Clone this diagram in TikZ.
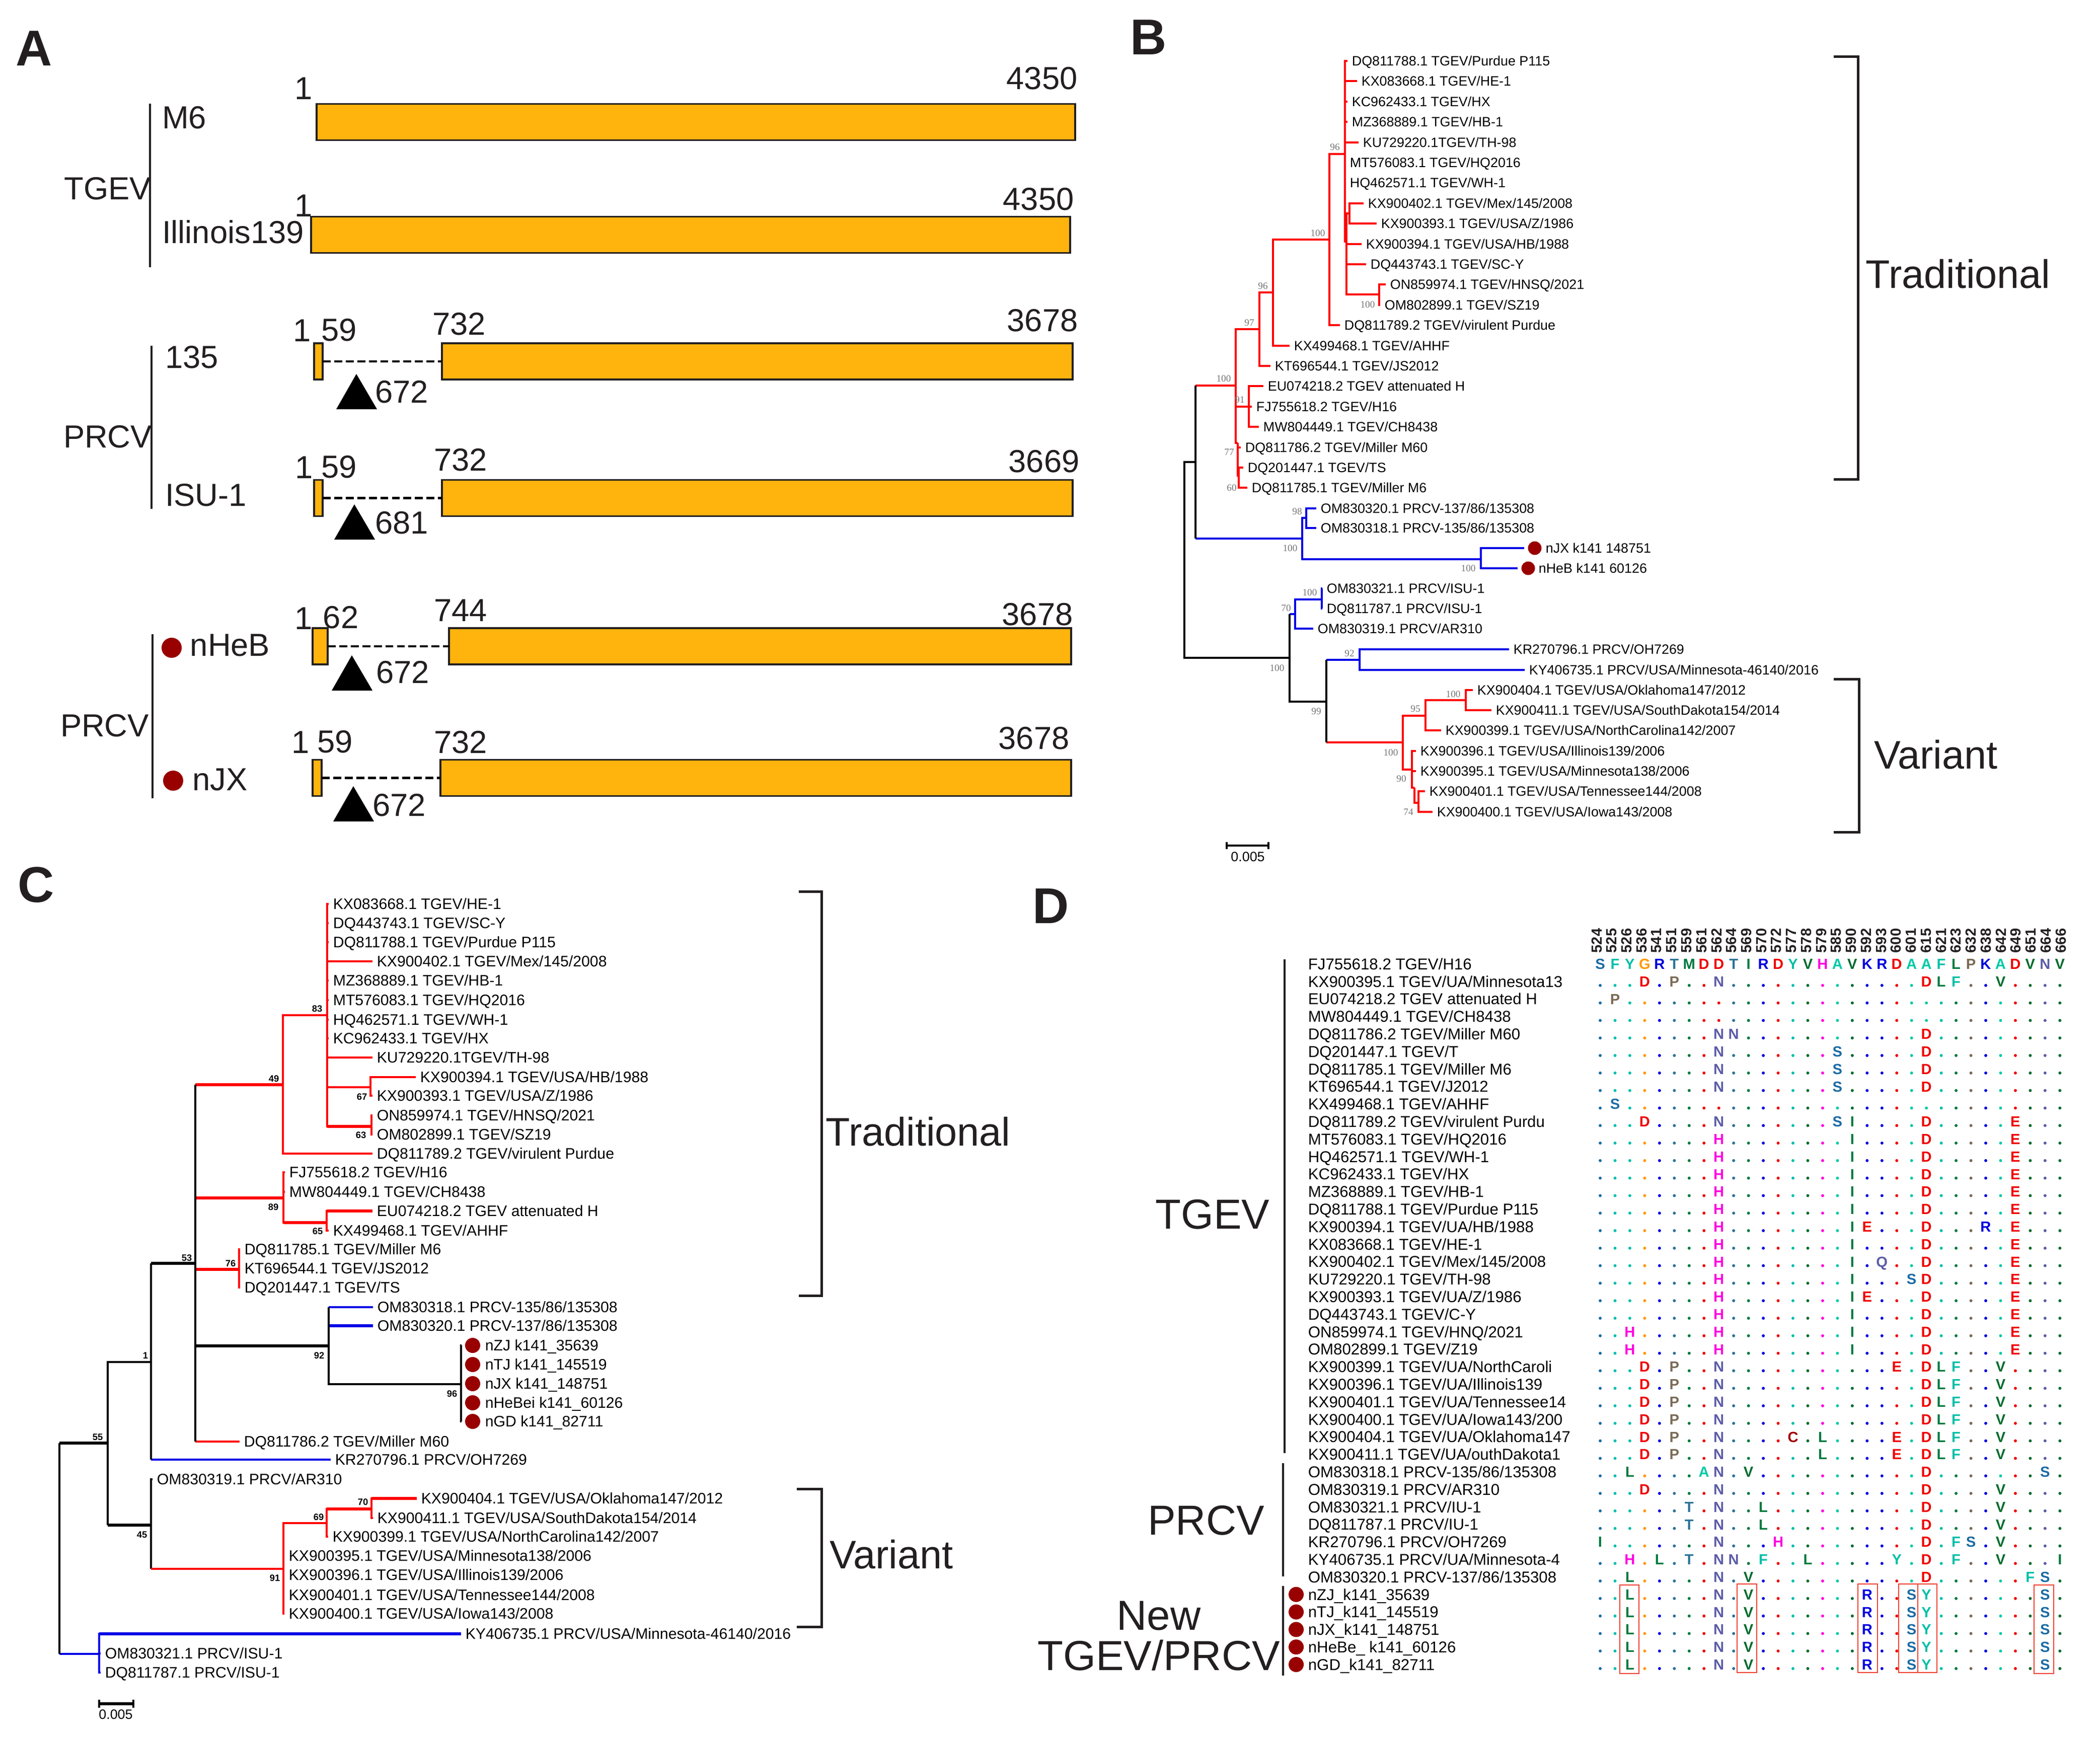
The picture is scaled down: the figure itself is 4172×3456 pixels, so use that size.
\documentclass[tikz,border=0pt]{standalone}
\usepackage{fontspec}
\setmainfont{Liberation Sans}
\newfontfamily\bsfont{Liberation Serif}
\definecolor{ink}{HTML}{231F20}
\definecolor{barfill}{HTML}{FFB30D}
\definecolor{spot}{HTML}{990000}
\definecolor{brred}{HTML}{FF0000}
\definecolor{brblue}{HTML}{0000E6}
\definecolor{boxred}{HTML}{F04030}
\definecolor{alnS}{HTML}{1B6BA5}
\definecolor{alnF}{HTML}{00BFA8}
\definecolor{alnY}{HTML}{00BFA8}
\definecolor{alnG}{HTML}{FF9900}
\definecolor{alnR}{HTML}{0000E0}
\definecolor{alnT}{HTML}{2A7396}
\definecolor{alnM}{HTML}{007A3D}
\definecolor{alnD}{HTML}{F00000}
\definecolor{alnE}{HTML}{F00000}
\definecolor{alnI}{HTML}{007A3D}
\definecolor{alnH}{HTML}{FF00E0}
\definecolor{alnA}{HTML}{00C9A7}
\definecolor{alnV}{HTML}{006B2D}
\definecolor{alnL}{HTML}{007A3D}
\definecolor{alnK}{HTML}{0000E0}
\definecolor{alnP}{HTML}{7A6A55}
\definecolor{alnN}{HTML}{5C5CA8}
\definecolor{alnQ}{HTML}{5C5CA8}
\definecolor{alnC}{HTML}{A00000}
\tikzset{
pan/.style={font=\fontsize{24}{26}\selectfont\bfseries,text=ink,inner sep=0pt},
numA/.style={font=\fontsize{15.2}{18}\selectfont,text=ink,inner sep=0pt},
bigl/.style={font=\fontsize{19}{22}\selectfont,text=ink,inner sep=0pt},
bigd/.style={font=\fontsize{20}{22}\selectfont,text=ink,inner sep=0pt},
bar/.style={draw=ink,fill=barfill,line width=.8pt,anchor=west,inner sep=0pt,outer sep=0pt,minimum height=17.28pt},
barw/.style={minimum width=#1*.24pt},
gap/.style={draw=black,line width=1.05pt,dash pattern=on 3.8pt off 1.7pt},
rule/.style={draw=ink,line width=1.1pt},
brk/.style={draw=ink,line width=1.2pt},
redspot/.style={circle,fill=spot,inner sep=0pt,outer sep=1.9pt,minimum size=#1*.24pt},
lf/.style={anchor=west,inner ysep=0pt,inner xsep=1.92pt,xshift=-1.92pt,text=black,text depth=0pt},
lfB/.style={lf,text height=4.7pt,font=\fontsize{6.45}{8}\selectfont},
lfC/.style={lf,text height=5.2pt,font=\fontsize{7.25}{9}\selectfont},
lfD/.style={lf,text height=5.4pt,font=\fontsize{7.5}{9}\selectfont},
drow/.style={at={(2598,{1915+34.8*#1})}},
rbr/.style={draw=brred,line width=.85pt},
bbr/.style={draw=brblue,line width=.85pt},
kbr/.style={draw=black,line width=.85pt},
fat/.style={line width=1.35pt},
bsB/.style={font=\bsfont\fontsize{4.6}{5}\selectfont,text=black!55,inner sep=0pt},
bsC/.style={font=\fontsize{4.4}{5}\selectfont\bfseries,text=black,inner sep=0pt},
alnletter/.style={font=\fontsize{7}{8}\selectfont\bfseries,inner sep=0pt,text height=5pt,text depth=0pt},
alnnum/.style={font=\fontsize{7}{8}\selectfont\bfseries,text=ink,inner sep=0pt,rotate=90},
alnbox/.style={draw=boxred,line width=.6pt}
}
\newcount\alncol
\def\alncons{{"S","F","Y","G","R","T","M","D","D","T","I","R","D","Y","V","H","A","V","K","R","D","A","A","F","L","P","K","A","D","V","N","V"}}
\newcommand\alncell[1]{\advance\alncol by 1
\ifx#1.\pgfmathparse{\alncons[\the\alncol-1]}\edef\alnc{\pgfmathresult}%
\fill[fill=aln\alnc] ({3179+29.46*(\the\alncol-1)},{1923+34.8*\alnr}) circle (3);
\else\node[alnletter,text=aln#1] (a\alnr-\the\alncol) at ({3179+29.46*(\the\alncol-1)},{1915+34.8*\alnr}) {#1};\fi}
\def\alnnext#1{\ifx#1\relax\else\alncell{#1}\expandafter\alnnext\fi}
\newcommand\alnrow[2]{\def\alnr{#1}\alncol=0 \alnnext#2\relax}

\begin{document}
\begin{tikzpicture}[x=.24pt,y=-.24pt]
\useasboundingbox (0,0) rectangle (4172,3456);
\node[pan] (pA) at (68,96) {A};
\node[pan] (pB) at (2282,74) {B};
\node[pan] (pC) at (72,1758) {C};
\node[pan] (pD) at (2088,1800) {D};

\draw[rule] (298,206) -- (298,531);
\draw[rule] (301,687) -- (301,1011);
\draw[rule] (303,1260) -- (303,1586);
\node[numA] (tgevA) at (214,375) {TGEV};
\node[numA] (prcvA) at (214,868) {PRCV};
\node[numA] (prcvB) at (208,1442) {PRCV};
\node[numA] (m6) at (366,234) {M6};
\node[numA] (il) at (463,461) {Illinois139};
\node[numA] (s135) at (381,710) {135};
\node[numA] (isu) at (409,984) {ISU-1};
\node[redspot=40] (spHeB) at (341,1287) {};
\node[redspot=40] (spJX) at (344,1551) {};
\node[numA] (nheb) at (457,1282) {nHeB};
\node[numA] (njx) at (437,1549) {nJX};

\node[bar,barw=1507] (barM) at (629,242.5) {};
\node[bar,barw=1508] (barI) at (618,466.5) {};
\node[bar,barw=17] (barSa) at (624,718) {};
\node[bar,barw=1253] (barSb) at (878,718) {};
\node[bar,barw=17] (barUa) at (624,989.5) {};
\node[bar,barw=1253] (barUb) at (878,989.5) {};
\node[bar,barw=30] (barHa) at (621,1284) {};
\node[bar,barw=1236] (barHb) at (892,1284) {};
\node[bar,barw=18] (barJa) at (621,1545.5) {};
\node[bar,barw=1253] (barJb) at (875,1545.5) {};
\draw[gap] (barSa) -- (barSb);
\draw[gap] (barUa) -- (barUb);
\draw[gap] (barHa) -- (barHb);
\draw[gap] (barJa) -- (barJb);
\foreach \x/\y in {708/743,704/1002,699/1302,702/1562}
\fill[black] (\x,\y) -- ++(-40,70) -- ++(81,0) -- cycle;
\foreach \x/\y/\t [count=\n] in {603/176/1,2070/156/4350,603/409/1,2063/396/4350,
600/657/1,674/656/59,912/644/732,2071/637/3678,798/779/672,
604/929/1,674/928/59,915/914/732,2074/917/3669,798/1039/681,
603/1229/1,677/1227/62,915/1213/744,2061/1221/3678,800/1336/672,
597/1475/1,666/1474/59,915/1475/732,2054/1467/3678,793/1600/672}
\node[numA] (pos\n) at (\x,\y) {\t};

\node[lfB] (bDQ788) at (2685,121) {DQ811788.1 TGEV/Purdue P115};
\node[lfB] (bKX083) at (2704,161) {KX083668.1 TGEV/HE-1};
\node[lfB] (bKC) at (2685,202) {KC962433.1 TGEV/HX};
\node[lfB] (bMZ) at (2685,242) {MZ368889.1 TGEV/HB-1};
\node[lfB] (bKU) at (2707,283) {KU729220.1TGEV/TH-98};
\node[lfB] (bMT) at (2681,323) {MT576083.1 TGEV/HQ2016};
\node[lfB] (bHQ) at (2681,363) {HQ462571.1 TGEV/WH-1};
\node[lfB] (bKX402) at (2717,404) {KX900402.1 TGEV/Mex/145/2008};
\node[lfB] (bKX393) at (2743,444) {KX900393.1 TGEV/USA/Z/1986};
\node[lfB] (bKX394) at (2713,485) {KX900394.1 TGEV/USA/HB/1988};
\node[lfB] (bDQ443) at (2722,525) {DQ443743.1 TGEV/SC-Y};
\node[lfB] (bON) at (2761,565) {ON859974.1 TGEV/HNSQ/2021};
\node[lfB] (bOM) at (2750,606) {OM802899.1 TGEV/SZ19};
\node[lfB] (bDQ789) at (2670,646) {DQ811789.2 TGEV/virulent Purdue};
\node[lfB] (bKX499) at (2570,687) {KX499468.1 TGEV/AHHF};
\node[lfB] (bKT) at (2532,727) {KT696544.1 TGEV/JS2012};
\node[lfB] (bEU) at (2518,767) {EU074218.2 TGEV attenuated H};
\node[lfB] (bFJ) at (2495,808) {FJ755618.2 TGEV/H16};
\node[lfB] (bMW) at (2509,848) {MW804449.1 TGEV/CH8438};
\node[lfB] (bDQ786) at (2473,889) {DQ811786.2 TGEV/Miller M60};
\node[lfB] (bDQ201) at (2478,929) {DQ201447.1 TGEV/TS};
\node[lfB] (bDQ785) at (2486,969) {DQ811785.1 TGEV/Miller M6};
\node[lfB] (bOM320) at (2623,1010) {OM830320.1 PRCV-137/86/135308};
\node[lfB] (bOM318) at (2623,1049) {OM830318.1 PRCV-135/86/135308};
\node[redspot=27] (bsJX) at (3049,1089) {};
\node[redspot=27] (bsHeB) at (3036,1129) {};
\node[lfB] (bnJX) at (3070,1089) {nJX k141 148751};
\node[lfB] (bnHeB) at (3056,1129) {nHeB k141 60126};
\node[lfB] (bOM321) at (2635,1169) {OM830321.1 PRCV/ISU-1};
\node[lfB] (bDQ787) at (2635,1209) {DQ811787.1 PRCV/ISU-1};
\node[lfB] (bOM319) at (2617,1249) {OM830319.1 PRCV/AR310};
\node[lfB] (bKR) at (3006,1290) {KR270796.1 PRCV/OH7269};
\node[lfB] (bKY) at (3037,1331) {KY406735.1 PRCV/USA/Minnesota-46140/2016};
\node[lfB] (bKX404) at (2934,1371) {KX900404.1 TGEV/USA/Oklahoma147/2012};
\node[lfB] (bKX411) at (2971,1411) {KX900411.1 TGEV/USA/SouthDakota154/2014};
\node[lfB] (bKX399) at (2871,1451) {KX900399.1 TGEV/USA/NorthCarolina142/2007};
\node[lfB] (bKX396) at (2821,1492) {KX900396.1 TGEV/USA/Illinois139/2006};
\node[lfB] (bKX395) at (2821,1532) {KX900395.1 TGEV/USA/Minnesota138/2006};
\node[lfB] (bKX401) at (2839,1572) {KX900401.1 TGEV/USA/Tennessee144/2008};
\node[lfB] (bKX400) at (2854,1613) {KX900400.1 TGEV/USA/Iowa143/2008};

\coordinate (bR) at (2353,1112);
\coordinate (bT) at (2375,918);
\coordinate (bTr) at (2455,766);
\coordinate (b97) at (2502,654);
\coordinate (b96) at (2529,581);
\coordinate (b100) at (2641,476);
\coordinate (b96b) at (2672,306);
\coordinate (bW) at (2675,480);
\coordinate (bX) at (2681,424);
\coordinate (bY) at (2740,585);
\coordinate (bS) at (2481,808);
\coordinate (bL) at (2459,880);
\coordinate (bM) at (2461,945);
\coordinate (bP) at (2587,1070);
\coordinate (bPa) at (2595,1029);
\coordinate (bPb) at (2942,1111);
\coordinate (bV) at (2562,1307);
\coordinate (bVa) at (2573,1220);
\coordinate (bVb) at (2635,1394);
\coordinate (bVc) at (2626,1191);
\coordinate (bVd) at (2701,1311);
\coordinate (bVe) at (2787,1475);
\coordinate (bVf) at (2832,1422);
\coordinate (bVg) at (2805,1529);
\coordinate (bVh) at (2912,1391);
\coordinate (bVi) at (2810,1565);
\coordinate (bVj) at (2818,1595);
\draw[kbr] (bR) |- (bT);
\draw[kbr] (bR) |- (bV);
\draw[rbr] (bT |- bTr) -- (bTr);
\draw[bbr] (bT |- bP) -- (bP);
\draw[kbr] (bT |- bTr) -- (bT |- bP);
\draw[rbr] (bTr) |- (b97);
\draw[rbr] (bTr) |- (bS);
\draw[rbr] (bTr) |- (bL);
\draw[rbr] (b97) |- (b96);
\draw[rbr] (b97) |- (bKT.west);
\draw[rbr] (b96) |- (b100);
\draw[rbr] (b96) |- (bKX499.west);
\draw[rbr] (b100) |- (b96b);
\draw[rbr] (b100) |- (bDQ789.west);
\foreach \lf in {bDQ788,bKX083,bKC,bMZ,bKU,bMT,bHQ} \draw[rbr] (b96b) |- (\lf.west);
\draw[rbr] (b96b) |- (bW);
\draw[rbr] (bW) |- (bX);
\draw[rbr] (bW) |- (bY);
\draw[rbr] (bW) |- (bKX394.west);
\draw[rbr] (bW) |- (bDQ443.west);
\draw[rbr] (bX) |- (bKX402.west);
\draw[rbr] (bX) |- (bKX393.west);
\draw[rbr] (bY) |- (bON.west);
\draw[rbr] (bY) |- (bOM.west);
\foreach \lf in {bEU,bFJ,bMW} \draw[rbr] (bS) |- (\lf.west);
\draw[rbr] (bL) |- (bDQ786.west);
\draw[rbr] (bL) |- (bM);
\draw[rbr] (bM) |- (bDQ201.west);
\draw[rbr] (bM) |- (bDQ785.west);
\draw[bbr] (bP) |- (bPa);
\draw[bbr] (bP) |- (bPb);
\draw[bbr] (bPa) |- (bOM320.west);
\draw[bbr] (bPa) |- (bOM318.west);
\draw[bbr] (bPb) |- (bsJX.west);
\draw[bbr] (bPb) |- (bsHeB.west);
\draw[bbr] (bV |- bVa) -- (bVa);
\draw[kbr] (bV |- bVa) -- (bV |- bVb) -- (bVb);
\draw[bbr] (bVb |- bVd) -- (bVd);
\draw[rbr] (bVb |- bVe) -- (bVe);
\draw[kbr] (bVb |- bVd) -- (bVb |- bVe);
\draw[bbr] (bVa) |- (bVc);
\draw[bbr] (bVa) |- (bOM319.west);
\draw[bbr] (bVc) |- (bOM321.west);
\draw[bbr] (bVc) |- (bDQ787.west);
\draw[bbr] (bVd) |- (bKR.west);
\draw[bbr] (bVd) |- (bKY.west);
\draw[rbr] (bVe) |- (bVf);
\draw[rbr] (bVe) |- (bVg);
\draw[rbr] (bVf) |- (bVh);
\draw[rbr] (bVf) |- (bKX399.west);
\draw[rbr] (bVh) |- (bKX404.west);
\draw[rbr] (bVh) |- (bKX411.west);
\draw[rbr] (bVg) |- (bKX396.west);
\draw[rbr] (bVg) |- (bKX395.west);
\draw[rbr] (bVg) |- (bVi);
\draw[rbr] (bVi) |- (bVj);
\draw[rbr] (bVj) |- (bKX401.west);
\draw[rbr] (bVj) |- (bKX400.west);
\foreach \x/\y/\t [count=\n] in {2652/292/96,2618/463/100,2509/568/96,2482/641/97,2431/752/100,2463/794/91,2717/605/100,2442/898/77,2447/969/60,
2577/1016/98,2563/1089/100,2917/1129/100,2602/1177/100,2555/1208/70,2537/1327/100,2681/1298/92,2615/1413/99,2887/1379/100,2812/1408/95,2763/1495/100,2784/1547/90,2798/1613/74}
\node[bsB] (bb\n) at (\x,\y) {\t};
\draw[kbr] (2437,1680) -- (2520,1680);
\draw[kbr] (2437,1673) -- (2437,1687);
\draw[kbr] (2520,1673) -- (2520,1687);
\node[lfB,anchor=center,xshift=1.92pt] (bScale) at (2479,1702) {0.005};
\draw[brk] (3643,112) -- (3691,112) -- (3691,952) -- (3643,952);
\draw[brk] (3643,1349) -- (3693,1349) -- (3693,1653) -- (3643,1653);
\node[bigl] (bTrad) at (3890,544) {Traditional};
\node[bigl] (bVar) at (3846,1499) {Variant};

\node[lfC] (cKX083) at (661,1796) {KX083668.1 TGEV/HE-1};
\node[lfC] (cDQ443) at (661,1834) {DQ443743.1 TGEV/SC-Y};
\node[lfC] (cDQ788) at (661,1872) {DQ811788.1 TGEV/Purdue P115};
\node[lfC] (cKX402) at (748,1910) {KX900402.1 TGEV/Mex/145/2008};
\node[lfC] (cMZ) at (661,1948) {MZ368889.1 TGEV/HB-1};
\node[lfC] (cMT) at (661,1987) {MT576083.1 TGEV/HQ2016};
\node[lfC] (cHQ) at (661,2026) {HQ462571.1 TGEV/WH-1};
\node[lfC] (cKC) at (661,2063) {KC962433.1 TGEV/HX};
\node[lfC] (cKU) at (748,2101) {KU729220.1TGEV/TH-98};
\node[lfC] (cKX394) at (834,2140) {KX900394.1 TGEV/USA/HB/1988};
\node[lfC] (cKX393) at (748,2177) {KX900393.1 TGEV/USA/Z/1986};
\node[lfC] (cON) at (748,2216) {ON859974.1 TGEV/HNSQ/2021};
\node[lfC] (cOM) at (748,2254) {OM802899.1 TGEV/SZ19};
\node[lfC] (cDQ789) at (748,2292) {DQ811789.2 TGEV/virulent Purdue};
\node[lfC] (cFJ) at (574,2329) {FJ755618.2 TGEV/H16};
\node[lfC] (cMW) at (574,2368) {MW804449.1 TGEV/CH8438};
\node[lfC] (cEU) at (748,2406) {EU074218.2 TGEV attenuated H};
\node[lfC] (cKX499) at (661,2445) {KX499468.1 TGEV/AHHF};
\node[lfC] (cDQ785) at (485,2482) {DQ811785.1 TGEV/Miller M6};
\node[lfC] (cKT) at (485,2520) {KT696544.1 TGEV/JS2012};
\node[lfC] (cDQ201) at (485,2558) {DQ201447.1 TGEV/TS};
\node[lfC] (cOM318) at (749,2597) {OM830318.1 PRCV-135/86/135308};
\node[lfC] (cOM320) at (749,2634) {OM830320.1 PRCV-137/86/135308};
\node[redspot=30] (csZJ) at (939,2673) {};
\node[redspot=30] (csTJ) at (939,2711) {};
\node[redspot=30] (csJX) at (939,2749) {};
\node[redspot=30] (csHe) at (939,2787) {};
\node[redspot=30] (csGD) at (939,2824) {};
\node[lfC] (cnZJ) at (963,2673) {nZJ k141\_35639};
\node[lfC] (cnTJ) at (963,2711) {nTJ k141\_145519};
\node[lfC] (cnJX) at (963,2749) {nJX k141\_148751};
\node[lfC] (cnHe) at (963,2787) {nHeBei k141\_60126};
\node[lfC] (cnGD) at (963,2824) {nGD k141\_82711};
\node[lfC] (cDQ786) at (484,2864) {DQ811786.2 TGEV/Miller M60};
\node[lfC] (cKR) at (665,2900) {KR270796.1 PRCV/OH7269};
\node[lfC] (cOM319) at (311,2939) {OM830319.1 PRCV/AR310};
\node[lfC] (cKX404) at (836,2977) {KX900404.1 TGEV/USA/Oklahoma147/2012};
\node[lfC] (cKX411) at (749,3016) {KX900411.1 TGEV/USA/SouthDakota154/2014};
\node[lfC] (cKX399) at (660,3053) {KX900399.1 TGEV/USA/NorthCarolina142/2007};
\node[lfC] (cKX395) at (573,3091) {KX900395.1 TGEV/USA/Minnesota138/2006};
\node[lfC] (cKX396) at (573,3129) {KX900396.1 TGEV/USA/Illinois139/2006};
\node[lfC] (cKX401) at (573,3169) {KX900401.1 TGEV/USA/Tennessee144/2008};
\node[lfC] (cKX400) at (573,3206) {KX900400.1 TGEV/USA/Iowa143/2008};
\node[lfC] (cKY) at (924,3246) {KY406735.1 PRCV/USA/Minnesota-46140/2016};
\node[lfC] (cOM321) at (208,3285) {OM830321.1 PRCV/ISU-1};
\node[lfC] (cDQ787) at (208,3323) {DQ811787.1 PRCV/ISU-1};

\coordinate (cR) at (118,3000);
\coordinate (cA) at (214,2867);
\coordinate (cB) at (197,3286);
\coordinate (cCl) at (300,2706);
\coordinate (cDl) at (300,3030);
\coordinate (cE) at (388,2510);
\coordinate (cF) at (562,2155);
\coordinate (cG) at (563,2380);
\coordinate (cH) at (475,2522);
\coordinate (cI) at (653,2674);
\coordinate (cJ) at (650,2017);
\coordinate (cK) at (736,2160);
\coordinate (cL) at (738,2238);
\coordinate (cM) at (649,2429);
\coordinate (cN) at (916,2750);
\coordinate (cO) at (563,3117);
\coordinate (cP) at (649,3026);
\coordinate (cQ) at (738,2998);
\draw[bbr] (cR |- cB) -- (cB);
\draw[kbr,fat] (cR |- cA) -- (cA);
\draw[kbr] (cR |- cA) -- (cR |- cB);
\draw[kbr] (cA) |- (cCl);
\draw[kbr] (cA |- cCl) -- (cA |- cDl);
\draw[kbr,fat] (cA |- cDl) -- (cDl);
\draw[kbr,fat] (cCl |- cE) -- (cE);
\draw[bbr] (cCl |- cKR.west) -- (cKR.west);
\draw[kbr] (cCl |- cE) -- (cCl |- cKR.west);
\draw[rbr,fat] (cE |- cF) -- (cF);
\draw[rbr,fat] (cE |- cG) -- (cG);
\draw[rbr,fat] (cE |- cH) -- (cH);
\draw[kbr,fat] (cE |- cI) -- (cI);
\draw[rbr] (cE |- cDQ786.west) -- (cDQ786.west);
\draw[kbr] (cE |- cF) -- (cE |- cDQ786.west);
\draw[rbr] (cF) |- (cJ);
\draw[rbr] (cF) |- (cDQ789.west);
\foreach \lf in {cKX083,cDQ443,cDQ788,cKX402,cMZ,cMT,cHQ,cKC,cKU} \draw[rbr] (cJ) |- (\lf.west);
\draw[rbr] (cJ) |- (cK);
\draw[rbr] (cJ) |- (cL);
\draw[rbr,fat] (cJ |- cL) -- (cL);
\draw[rbr] (cK) |- (cKX394.west);
\draw[rbr] (cK) |- (cKX393.west);
\draw[rbr] (cL) |- (cON.west);
\draw[rbr] (cL) |- (cOM.west);
\draw[rbr] (cG) |- (cFJ.west);
\draw[rbr] (cG) |- (cMW.west);
\draw[rbr] (cG) |- (cM);
\draw[rbr,fat] (cG |- cM) -- (cM);
\draw[rbr] (cM) |- (cEU.west);
\draw[rbr,fat] (cM |- cEU.west) -- (cEU.west);
\draw[rbr] (cM) |- (cKX499.west);
\foreach \lf in {cDQ785,cKT,cDQ201} \draw[rbr] (cH) |- (\lf.west);
\draw[bbr] (cI |- cOM318.west) -- (cOM318.west);
\draw[bbr,fat] (cI |- cOM320.west) -- (cOM320.west);
\draw[kbr] (cI |- cOM318.west) -- (cI |- cN) -- (cN);
\foreach \lf in {csZJ,csTJ,csJX,csHe,csGD} \draw[kbr] (cN) |- (\lf.west);
\draw[kbr] (cDl) |- (cOM319.west);
\draw[kbr] (cDl) |- (cDl |- cO);
\draw[rbr] (cDl |- cO) -- (cO);
\draw[rbr] (cO) |- (cP);
\foreach \lf in {cKX395,cKX396,cKX401,cKX400} \draw[rbr] (cO) |- (\lf.west);
\draw[rbr] (cP) |- (cQ);
\draw[rbr,fat] (cP |- cQ) -- (cQ);
\draw[rbr] (cP) |- (cKX399.west);
\draw[rbr] (cQ) |- (cKX404.west);
\draw[rbr,fat] (cQ |- cKX404.west) -- (cKX404.west);
\draw[rbr] (cQ) |- (cKX411.west);
\draw[bbr] (cB) |- (cKY.west);
\draw[bbr,fat] (cB |- cKY.west) -- (cKY.west);
\draw[bbr] (cB) |- (cOM321.west);
\draw[bbr] (cB) |- (cDQ787.west);
\foreach \x/\y/\t [count=\n] in {630/2004/83,544/2143/49,719/2179/67,717/2255/63,543/2398/89,631/2446/65,458/2510/76,371/2499/53,634/2693/92,898/2769/96,289/2693/1,194/2855/55,282/3049/45,721/2984/70,633/3014/69,546/3135/91}
\node[bsC] (cb\n) at (\x,\y) {\t};
\draw[kbr,fat] (197,3385) -- (265,3385);
\draw[kbr] (197,3377) -- (197,3393);
\draw[kbr] (265,3377) -- (265,3393);
\node[lfB,anchor=center,xshift=1.92pt] (cScale) at (230,3406) {0.005};
\draw[brk] (1587,1771) -- (1632,1771) -- (1632,2574) -- (1587,2574);
\draw[brk] (1583,2958) -- (1632,2958) -- (1632,3232) -- (1583,3232);
\node[bigl] (cTrad) at (1824,2248) {Traditional};
\node[bigl] (cVar) at (1771,3088) {Variant};

\draw[rule] (2552,1906) -- (2552,2887);
\draw[rule] (2549,2907) -- (2549,3132);
\draw[rule] (2549,3151) -- (2549,3329);
\node[bigd] (dTGEV) at (2409,2413) {TGEV};
\node[bigd] (dPRCV) at (2396,3021) {PRCV};
\node[bigd] (dNew) at (2302,3210) {New};
\node[bigd] (dMix) at (2302,3289) {TGEV/PRCV};
\node[lfD,drow=0] (d0) {FJ755618.2 TGEV/H16};
\node[lfD,drow=1] (d1) {KX900395.1 TGEV/UA/Minnesota13};
\node[lfD,drow=2] (d2) {EU074218.2 TGEV attenuated H};
\node[lfD,drow=3] (d3) {MW804449.1 TGEV/CH8438};
\node[lfD,drow=4] (d4) {DQ811786.2 TGEV/Miller M60};
\node[lfD,drow=5] (d5) {DQ201447.1 TGEV/T};
\node[lfD,drow=6] (d6) {DQ811785.1 TGEV/Miller M6};
\node[lfD,drow=7] (d7) {KT696544.1 TGEV/J2012};
\node[lfD,drow=8] (d8) {KX499468.1 TGEV/AHHF};
\node[lfD,drow=9] (d9) {DQ811789.2 TGEV/virulent Purdu};
\node[lfD,drow=10] (d10) {MT576083.1 TGEV/HQ2016};
\node[lfD,drow=11] (d11) {HQ462571.1 TGEV/WH-1};
\node[lfD,drow=12] (d12) {KC962433.1 TGEV/HX};
\node[lfD,drow=13] (d13) {MZ368889.1 TGEV/HB-1};
\node[lfD,drow=14] (d14) {DQ811788.1 TGEV/Purdue P115};
\node[lfD,drow=15] (d15) {KX900394.1 TGEV/UA/HB/1988};
\node[lfD,drow=16] (d16) {KX083668.1 TGEV/HE-1};
\node[lfD,drow=17] (d17) {KX900402.1 TGEV/Mex/145/2008};
\node[lfD,drow=18] (d18) {KU729220.1 TGEV/TH-98};
\node[lfD,drow=19] (d19) {KX900393.1 TGEV/UA/Z/1986};
\node[lfD,drow=20] (d20) {DQ443743.1 TGEV/C-Y};
\node[lfD,drow=21] (d21) {ON859974.1 TGEV/HNQ/2021};
\node[lfD,drow=22] (d22) {OM802899.1 TGEV/Z19};
\node[lfD,drow=23] (d23) {KX900399.1 TGEV/UA/NorthCaroli};
\node[lfD,drow=24] (d24) {KX900396.1 TGEV/UA/Illinois139};
\node[lfD,drow=25] (d25) {KX900401.1 TGEV/UA/Tennessee14};
\node[lfD,drow=26] (d26) {KX900400.1 TGEV/UA/Iowa143/200};
\node[lfD,drow=27] (d27) {KX900404.1 TGEV/UA/Oklahoma147};
\node[lfD,drow=28] (d28) {KX900411.1 TGEV/UA/outhDakota1};
\node[lfD,drow=29] (d29) {OM830318.1 PRCV-135/86/135308};
\node[lfD,drow=30] (d30) {OM830319.1 PRCV/AR310};
\node[lfD,drow=31] (d31) {OM830321.1 PRCV/IU-1};
\node[lfD,drow=32] (d32) {DQ811787.1 PRCV/IU-1};
\node[lfD,drow=33] (d33) {KR270796.1 PRCV/OH7269};
\node[lfD,drow=34] (d34) {KY406735.1 PRCV/UA/Minnesota-4};
\node[lfD,drow=35] (d35) {OM830320.1 PRCV-137/86/135308};
\node[lfD,drow=36] (d36) {nZJ\_k141\_35639};
\node[lfD,drow=37] (d37) {nTJ\_k141\_145519};
\node[lfD,drow=38] (d38) {nJX\_k141\_148751};
\node[lfD,drow=39] (d39) {nHeBe\_ k141\_60126};
\node[lfD,drow=40] (d40) {nGD\_k141\_82711};
\foreach \r in {36,...,40}
\node[redspot=30] (ds\r) at (2575,{1915+34.8*\r}) {};

\foreach \p [count=\c from 0] in {524,525,526,536,541,551,559,561,562,564,569,570,572,577,578,579,585,590,592,593,600,601,615,621,623,632,638,642,649,651,664,666}
\node[alnnum] (n\p) at ({3172+29.74*\c},1869) {\p};
\alnrow{0}{SFYG RTMD DTIR DYVH AVKR DAAF LPKA DVNV}
\alnrow{1}{...D .P.. N... .... .... ..DL F..V ....}
\alnrow{2}{.P.. .... .... .... .... .... .... ....}
\alnrow{3}{.... .... .... .... .... .... .... ....}
\alnrow{4}{.... .... NN.. .... .... ..D. .... ....}
\foreach \r in {5,6,7} {\alnrow{\r}{.... .... N... .... S... ..D. .... ....}}
\alnrow{8}{.S.. .... .... .... .... .... .... ....}
\alnrow{9}{...D .... N... .... SI.. ..D. .... E...}
\foreach \r in {10,...,14,16,20} {\alnrow{\r}{.... .... H... .... .I.. ..D. .... E...}}
\alnrow{15}{.... .... H... .... .IE. ..D. ..R. E...}
\alnrow{17}{.... .... H... .... .I.Q ..D. .... E...}
\alnrow{18}{.... .... H... .... .I.. .SD. .... E...}
\alnrow{19}{.... .... H... .... .IE. ..D. .... E...}
\foreach \r in {21,22} {\alnrow{\r}{..H. .... H... .... .I.. ..D. .... E...}}
\alnrow{23}{...D .P.. N... .... .... E.DL F..V ....}
\foreach \r in {24,25,26} {\alnrow{\r}{...D .P.. N... .... .... ..DL F..V ....}}
\alnrow{27}{...D .P.. N... .C.L .... E.DL F..V ....}
\alnrow{28}{...D .P.. N... ...L .... E.DL F..V ....}
\alnrow{29}{..L. ...A N.V. .... .... ..D. .... ..S.}
\alnrow{30}{...D .... N... .... .... ..D. ...V ....}
\foreach \r in {31,32} {\alnrow{\r}{.... ..T. N..L .... .... ..D. ...V ....}}
\alnrow{33}{I... .... N... H... .... ..D. FS.V ....}
\alnrow{34}{..H. L.T. NN.F ..L. .... Y.D. F..V ...I}
\alnrow{35}{..L. .... N.V. .... .... ..D. .... .FS.}
\foreach \r in {36,...,40} {\alnrow{\r}{..L. .... N.V. .... ..R. .SY. .... ..S.}}
\draw[alnbox] (3218,3149) rectangle (3256,3325);
\draw[alnbox] (3451,3147) rectangle (3490,3323);
\draw[alnbox] (3691,3147) rectangle (3730,3323);
\draw[alnbox] (3772,3147) rectangle (3810,3323);
\draw[alnbox] (3810,3147) rectangle (3848,3323);
\draw[alnbox] (4041,3149) rectangle (4080,3325);
\end{tikzpicture}
\end{document}
